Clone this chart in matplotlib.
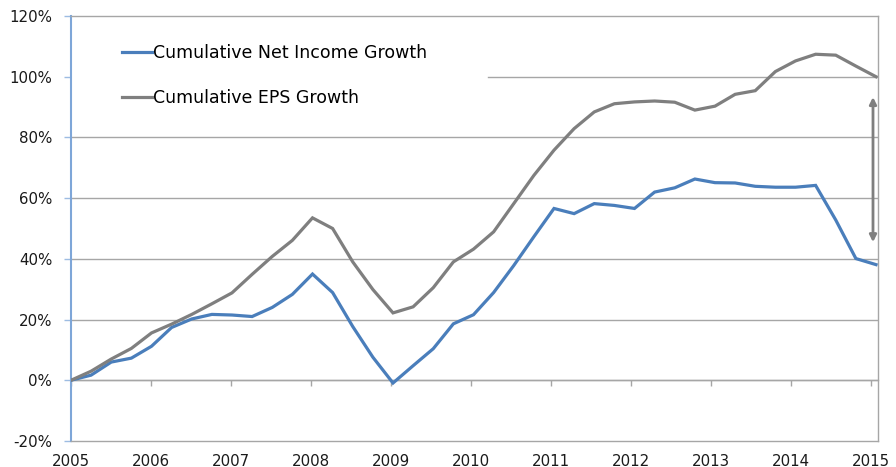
import matplotlib
matplotlib.use('agg')
import matplotlib.pyplot as plt
import numpy as np

# quarterly cumulative growth, 2005Q1 .. 2015Q1 (percent)
net_income = [0, 1.7, 6.0, 7.3, 11.2, 17.4, 20.2, 21.7, 21.5, 21.0, 24.0, 28.3, 35.0,
              28.9, 17.7, 7.6, -0.9, 4.8, 10.4, 18.6, 21.6, 28.9, 37.8, 47.3, 56.6,
              54.9, 58.2, 57.6, 56.6, 62.0, 63.4, 66.3, 65.1, 65.0, 63.9, 63.6, 63.6,
              64.2, 52.8, 40.1, 38.1]
eps = [0, 3.0, 7.0, 10.5, 15.6, 18.5, 21.7, 25.2, 28.8, 34.9, 40.8, 46.1, 53.5,
       50.0, 39.0, 29.9, 22.2, 24.2, 30.5, 39.0, 43.2, 48.9, 58.2, 67.5, 75.8,
       82.9, 88.4, 91.1, 91.7, 92.0, 91.6, 89.0, 90.3, 94.2, 95.4, 101.7, 105.2,
       107.4, 107.1, 103.5, 100.0]
years = list(range(2005, 2016))
y_ticks = [-20, 0, 20, 40, 60, 80, 100, 120]
labels = ['Cumulative Net Income Growth', 'Cumulative EPS Growth']

blue = '#4A7EBB'
gray = '#7F7F7F'
grid = '#A6A6A6'

plt.rcParams['font.family'] = ['DejaVu Sans']

fig = plt.figure(figsize=(8.96, 4.67), dpi=100)
ax = fig.add_axes([71/896, 1-441/467, 807/896, 425/467])

step = 0.25 * 805 / 800
x = 2005 + np.arange(len(eps)) * step

ax.set_xlim(2005, 2005 + 807/80)
ax.set_ylim(-20, 120)

for v in y_ticks[1:-1]:
    if v == 100:
        ax.axhline(v, xmin=(488-71)/807, color=grid, lw=1, zorder=1)
    else:
        ax.axhline(v, color=grid, lw=1, zorder=1)

l1, = ax.plot(x, net_income, color=blue, lw=2.3, zorder=3, solid_joinstyle='miter')
l2, = ax.plot(x, eps, color=gray, lw=2.3, zorder=3, solid_joinstyle='miter')

ax.annotate('', xy=(2015.025, 45.5), xytext=(2015.025, 93.3),
            arrowprops=dict(arrowstyle='<|-|>', color=gray, lw=2,
                            mutation_scale=10, shrinkA=0, shrinkB=0))

leg = ax.legend([l1, l2], labels, loc='upper left', bbox_to_anchor=(0.063, 0.935),
                frameon=False, fontsize=12.5, handlelength=1.72, handletextpad=0.05,
                labelspacing=1.58, borderpad=0, borderaxespad=0)

for s in ['top', 'right', 'bottom']:
    ax.spines[s].set_color(grid)
    ax.spines[s].set_linewidth(1)
ax.spines['left'].set_color('#7EA6D8')
ax.spines['left'].set_linewidth(1.5)

ax.set_yticks(y_ticks)
ax.set_yticklabels(['%d%%' % v for v in y_ticks])
ax.tick_params(axis='y', length=5, width=1, color='#9DBCE2', pad=8.5,
               labelsize=10.8, labelcolor='#1a1a1a')

ax.set_xticks(years)
ax.set_xticklabels([str(y) for y in years])
ax.tick_params(axis='x', length=0, pad=9, labelsize=10.8, labelcolor='#1a1a1a')

# tick marks on the 0% line
sec = ax.secondary_xaxis(20/140)
sec.set_xticks(years)
sec.set_xticklabels([])
sec.tick_params(axis='x', length=4, width=1, color=grid, direction='out')
sec.spines['bottom'].set_color(grid)
sec.spines['bottom'].set_linewidth(1)

fig.savefig('out.png', dpi=100)
